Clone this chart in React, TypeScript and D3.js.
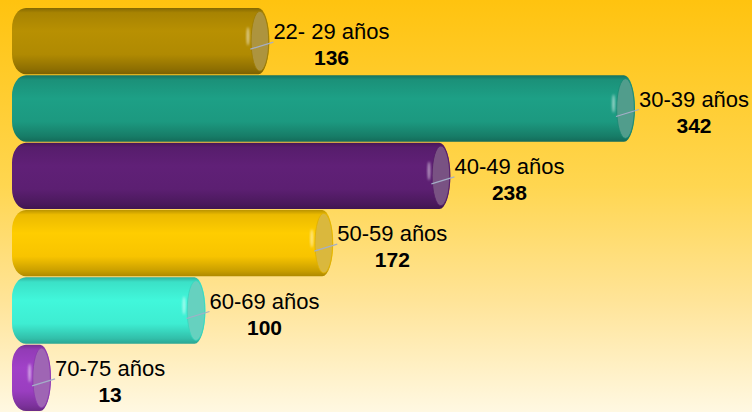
import React, { useEffect, useRef } from "react";
import * as d3 from "d3";

const categories = ["22- 29 años", "30-39 años", "40-49 años", "50-59 años", "60-69 años", "70-75 años"];
const values = [136, 342, 238, 172, 100, 13];
const colors = ["#B08A02", "#1C9980", "#5C1F72", "#F8C400", "#3EEDD2", "#9A3EC0"];

const W = 752;
const H = 412;

export default function App() {
  const ref = useRef<SVGSVGElement | null>(null);

  useEffect(() => {
    document.body.style.margin = "0";
    const svg = d3.select(ref.current);
    svg.selectAll("*").remove();

    const defs = svg.append("defs");
    const bg = defs.append("linearGradient").attr("id", "bg").attr("x1", 0).attr("y1", 0).attr("x2", 0).attr("y2", 1);
    [[0, "#FFC30F"], [0.45, "#FFD650"], [0.73, "#FFE498"], [1, "#FFF8E2"]].forEach(([o, c]) =>
      bg.append("stop").attr("offset", o as number).attr("stop-color", c as string)
    );
    svg.append("rect").attr("width", W).attr("height", H).attr("fill", "url(#bg)");

    const blur = defs.append("filter").attr("id", "blur").attr("x", "-50%").attr("y", "-50%").attr("width", "200%").attr("height", "200%");
    blur.append("feGaussianBlur").attr("stdDeviation", 0.8);

    const y = d3.scaleBand<string>().domain(categories).range([8, 412]).paddingInner(0.0).paddingOuter(0.0);
    const x = d3.scaleLinear().domain([0, 342]).range([17, 624]);

    const x0 = 12;
    const rx = 11;

    categories.forEach((cat, i) => {
      const v = values[i];
      const base = d3.color(colors[i])!;
      const g = defs.append("linearGradient").attr("id", `bar${i}`).attr("x1", 0).attr("y1", 0).attr("x2", 0).attr("y2", 1);
      const stops: [number, string][] = [
        [0, base.darker(0.8).formatHex()],
        [0.07, base.darker(0.15).formatHex()],
        [0.35, base.brighter(0.12).formatHex()],
        [0.7, base.formatHex()],
        [0.92, base.darker(0.6).formatHex()],
        [1, base.darker(1.0).formatHex()],
      ];
      stops.forEach(([o, c]) => g.append("stop").attr("offset", o).attr("stop-color", c));

      const y0 = y(cat)!;
      const h = y.bandwidth() - 1;
      const y1 = y0 + h;
      const cy = y0 + h / 2;
      const cx = x(v);
      const ry = h / 2;
      const rl = Math.min(14, (cx - x0) / 2);
      const rv = 20;

      const path =
        `M${x0 + rl},${y0} L${cx},${y0} A${rx},${ry} 0 0 1 ${cx},${y1} L${x0 + rl},${y1} ` +
        `A${rl},${rv} 0 0 1 ${x0},${y1 - rv} L${x0},${y0 + rv} A${rl},${rv} 0 0 1 ${x0 + rl},${y0} Z`;

      svg.append("path").attr("d", path).attr("fill", `url(#bar${i})`);

      const faceCol = d3.interpolateRgb(colors[i], "#a8a4a0")(0.38);
      svg
        .append("ellipse")
        .attr("cx", cx + 1.5)
        .attr("cy", cy)
        .attr("rx", rx * 0.8)
        .attr("ry", ry * 0.9)
        .attr("fill", faceCol)
        .attr("stroke", base.darker(0.3).formatHex())
        .attr("stroke-width", 0.8);

      svg
        .append("ellipse")
        .attr("cx", cx - rx * 0.95)
        .attr("cy", cy - ry * 0.15)
        .attr("rx", 1.4)
        .attr("ry", ry * 0.28)
        .attr("fill", "#ffffff")
        .attr("opacity", 0.55)
        .attr("filter", "url(#blur)");

      const capRight = cx + rx;
      svg
        .append("line")
        .attr("x1", cx - 8)
        .attr("y1", cy + 8)
        .attr("x2", capRight + 4)
        .attr("y2", cy + 1)
        .attr("stroke", "#a4aec8")
        .attr("stroke-width", 1.2);

      const lx = capRight + 4;
      const lab = svg
        .append("text")
        .attr("x", lx)
        .attr("y", cy - 2)
        .attr("font-family", "Liberation Sans, Arial, sans-serif")
        .attr("font-size", 22)
        .attr("fill", "#000")
        .text(cat);
      const wl = (lab.node() as SVGTextElement).getComputedTextLength();
      svg
        .append("text")
        .attr("x", lx + wl / 2)
        .attr("y", cy + 24)
        .attr("text-anchor", "middle")
        .attr("font-family", "Liberation Sans, Arial, sans-serif")
        .attr("font-size", 21)
        .attr("font-weight", "bold")
        .attr("fill", "#000")
        .text(String(v));
    });
  }, []);

  return <svg ref={ref} width={W} height={H} style={{ display: "block" }} />;
}
